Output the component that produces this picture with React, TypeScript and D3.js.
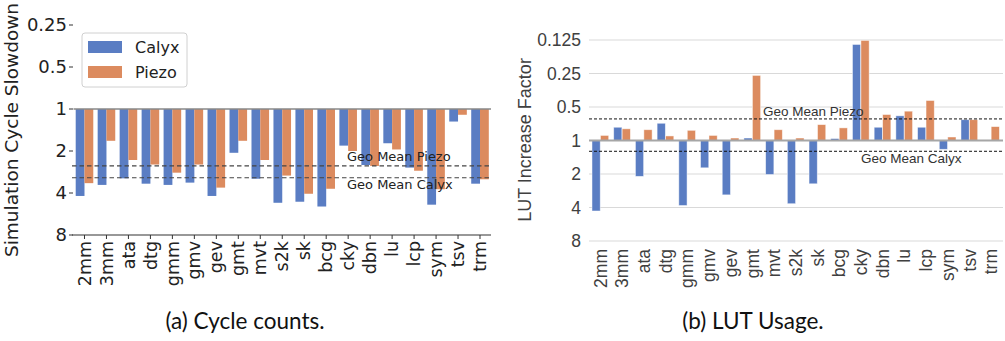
import * as d3 from 'd3';

const width = 1005;
const height = 341;

// benchmark names shared by both panels
const benchmarks = ['2mm', '3mm', 'ata', 'dtg', 'gmm', 'gmv', 'gev', 'gmt', 'mvt', 's2k', 'sk', 'bcg', 'cky', 'dbn', 'lu', 'lcp', 'sym', 'tsv', 'trm'];

// (a) cycle slowdown
const cycleCalyx = [4.2, 3.5, 3.14, 3.43, 3.5, 3.37, 4.2, 2.06, 3.16, 4.7, 4.62, 5.0, 1.83, 2.52, 1.76, 2.63, 4.85, 1.23, 3.43];
const cyclePiezo = [3.4, 1.69, 2.32, 2.5, 2.86, 2.5, 3.66, 1.69, 2.32, 3.0, 4.05, 3.73, 2.0, 2.56, 1.95, 2.77, 3.76, 1.1, 3.19];
const cycleTicks = [0.25, 0.5, 1, 2, 4, 8];
const cycleGeoPiezo = 2.56;
const cycleGeoCalyx = 3.11;

// (b) LUT usage
const lutCalyx = [4.3, 0.76, 2.1, 0.7, 3.84, 1.76, 3.08, 0.95, 2.02, 3.7, 2.45, 0.96, 0.137, 0.76, 0.6, 0.76, 1.2, 0.65, 1];
const lutPiezo = [0.9, 0.785, 0.8, 0.91, 0.81, 0.9, 0.95, 0.26, 0.8, 0.95, 0.72, 0.77, 0.126, 0.584, 0.545, 0.437, 0.93, 0.65, 0.75];
const lutTicks = [0.125, 0.25, 0.5, 1, 2, 4, 8];
const lutGeoPiezo = 0.64;
const lutGeoCalyx = 1.25;

const blue = '#5a7dc3';
const orange = '#dc8b5f';

const CycleChart = () => {
  const x = d3.scaleBand().domain(benchmarks).range([73.5, 491]);
  const y = d3.scaleLog().base(2).domain([0.25, 8]).range([25, 235]);
  const bw = x.bandwidth();
  const font = 'DejaVu Sans';

  return (
    <g fontFamily={font}>
      {/* bars hang from 1 */}
      {benchmarks.map((b, i) => (
        <g key={b}>
          <rect x={x(b)! + bw * 0.1} y={y(1)} width={bw * 0.4} height={y(cycleCalyx[i]) - y(1)} fill={blue} />
          <rect x={x(b)! + bw * 0.5} y={y(1)} width={bw * 0.4} height={y(cyclePiezo[i]) - y(1)} fill={orange} />
        </g>
      ))}
      <line x1={73.5} x2={491} y1={y(1)} y2={y(1)} stroke="#888" strokeWidth={1.5} />
      <line x1={72} x2={491} y1={y(cycleGeoPiezo)} y2={y(cycleGeoPiezo)} stroke="#444" strokeWidth={1.2} strokeDasharray="4.5,3" />
      <line x1={72} x2={491} y1={y(cycleGeoCalyx)} y2={y(cycleGeoCalyx)} stroke="#444" strokeWidth={1.2} strokeDasharray="4.5,3" />
      <text x={347} y={y(cycleGeoPiezo) - 4.5} fontSize={13} fill="#222">Geo Mean Piezo</text>
      <text x={347} y={y(cycleGeoCalyx) + 11} fontSize={13} fill="#222">Geo Mean Calyx</text>

      {/* y axis */}
      {cycleTicks.map((t) => (
        <g key={t}>
          <line x1={69} x2={73} y1={y(t)} y2={y(t)} stroke="#333" />
          <text x={67} y={y(t)} dy="0.35em" textAnchor="end" fontSize={18} fill="#222">{t}</text>
        </g>
      ))}
      <text transform={`translate(18,130) rotate(-90)`} textAnchor="middle" fontSize={18.5} fill="#222">Simulation Cycle Slowdown</text>

      {/* x axis */}
      <line x1={72} x2={491} y1={235} y2={235} stroke="#333" strokeWidth={1.2} />
      {benchmarks.map((b) => (
        <g key={b} transform={`translate(${x(b)! + bw / 2},0)`}>
          <line y1={235} y2={239} stroke="#333" />
          <text transform="translate(0,241) rotate(-90)" dy="0.35em" textAnchor="end" fontSize={17.5} fill="#222">{b}</text>
        </g>
      ))}

      {/* legend */}
      <rect x={82} y={33} width={105} height={54} rx={3} fill="#fff" stroke="#d0d0d0" />
      <rect x={88} y={41} width={34} height={12} fill={blue} />
      <rect x={88} y={66} width={34} height={12} fill={orange} />
      <text x={135} y={47} dy="0.35em" fontSize={16} fill="#222">Calyx</text>
      <text x={135} y={72} dy="0.35em" fontSize={16} fill="#222">Piezo</text>
    </g>
  );
};

const LutChart = () => {
  const x = d3.scaleBand().domain(benchmarks).range([589.6, 1002]);
  const y = d3.scaleLog().base(2).domain([0.125, 8]).range([40, 241]);
  const bw = x.bandwidth();
  const font = 'Liberation Sans';
  const bar = (v: number) => ({ y: Math.min(y(v), y(1)), h: Math.abs(y(v) - y(1)) });

  return (
    <g fontFamily={font}>
      {lutTicks.map((t) => (
        <g key={t}>
          <line x1={589} x2={1003} y1={y(t)} y2={y(t)} stroke="#d9d9d9" strokeWidth={1.2} />
          <text x={581} y={y(t)} dy="0.35em" textAnchor="end" fontSize={17.5} fill="#404040">{t}</text>
        </g>
      ))}
      {benchmarks.map((b, i) => {
        const c = bar(lutCalyx[i]);
        const p = bar(lutPiezo[i]);
        return (
          <g key={b}>
            <rect x={x(b)! + bw * 0.11} y={c.y} width={bw * 0.38} height={c.h} fill={blue} stroke="#fff" strokeOpacity={0.6} strokeWidth={0.8} />
            <rect x={x(b)! + bw * 0.5} y={p.y} width={bw * 0.38} height={p.h} fill={orange} stroke="#fff" strokeOpacity={0.6} strokeWidth={0.8} />
          </g>
        );
      })}
      <line x1={589} x2={1003} y1={y(1)} y2={y(1)} stroke="#a6a6a6" strokeWidth={2} />
      <line x1={589} x2={1003} y1={y(lutGeoPiezo)} y2={y(lutGeoPiezo)} stroke="#111" strokeWidth={1} strokeDasharray="3,2" />
      <line x1={589} x2={1003} y1={y(lutGeoCalyx)} y2={y(lutGeoCalyx)} stroke="#111" strokeWidth={1} strokeDasharray="3,2" />
      <text x={763} y={y(lutGeoPiezo) - 2.5} fontSize={13.5} fill="#333">Geo Mean Piezo</text>
      <text x={861} y={y(lutGeoCalyx) + 12} fontSize={13.5} fill="#333">Geo Mean Calyx</text>

      <text transform="translate(531,140) rotate(-90)" textAnchor="middle" fontSize={18} fill="#404040">LUT Increase Factor</text>
      {benchmarks.map((b) => (
        <text key={b} transform={`translate(${x(b)! + bw / 2},249) rotate(-90)`} dy="0.35em" textAnchor="end" fontSize={17.5} fill="#404040">{b}</text>
      ))}
    </g>
  );
};

export default function App() {
  return (
    <svg width={width} height={height} viewBox={`0 0 ${width} ${height}`} style={{ position: 'absolute', left: 0, top: 0, background: '#fff' }}>
      <CycleChart />
      <LutChart />
      <text x={245} y={329} textAnchor="middle" fontFamily="Lato" fontSize={22.5} fill="#111">(a) Cycle counts.</text>
      <text x={753} y={329} textAnchor="middle" fontFamily="Lato" fontSize={22.5} fill="#111">(b) LUT Usage.</text>
    </svg>
  );
}
